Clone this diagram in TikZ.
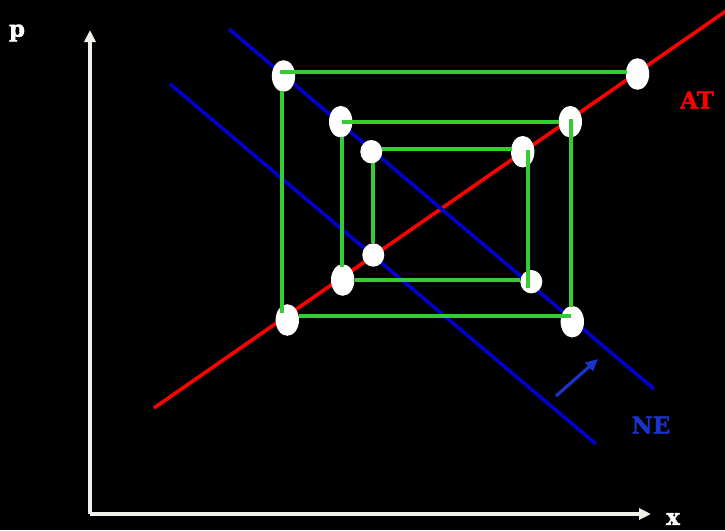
\documentclass[tikz,border=0pt]{standalone}
\usepackage{fontspec}
\newfontfamily\lblfont{DejaVu Serif Bold}[FakeBold=1.5]
\usetikzlibrary{shapes.geometric,arrows.meta}
\definecolor{axiscol}{RGB}{240,240,234}
\definecolor{greencol}{RGB}{51,204,51}
\definecolor{bluecol}{RGB}{0,0,204}
\definecolor{arrowblue}{RGB}{26,51,204}
\definecolor{redcol}{RGB}{255,0,0}
\tikzset{
  big/.style={ellipse,fill=white,inner sep=0pt,minimum width=23.4pt,minimum height=31.6pt},
  small/.style={ellipse,fill=white,inner sep=0pt,minimum width=22pt,minimum height=23.4pt},
  cob/.style={greencol,line width=3.2pt},
  axis/.style={axiscol,line width=3.6pt,-{Triangle[length=12pt,width=11pt]}},
  lbl/.style={font=\lblfont\fontsize{23}{27}\selectfont,inner sep=0pt},
}
\begin{document}
\begin{tikzpicture}[x=1pt,y=-1pt]
\fill[black] (0,0) rectangle (725,530);
\useasboundingbox (0,0) rectangle (725,530);
% axes
\coordinate (o) at (90,514);
\coordinate (ytip) at (90,30);
\coordinate (xtip) at (651,514);
\draw[axis] (o) -- (ytip);
\draw[axis] (o) -- (xtip);
\node[lbl,text=white] (p) at (17,33) {p};
\node[lbl,text=white] (x) at (673,519) {x};
% curves
\coordinate (r1) at (154,408);
\coordinate (r2) at (726,11);
\draw[redcol,line width=3.6pt] (r1) -- (r2);
\coordinate (b1) at (229,29);
\coordinate (b2) at (654,389);
\draw[bluecol,line width=3.6pt] (b1) -- (b2);
\coordinate (c1) at (170,84);
\coordinate (c2) at (596,444);
\draw[bluecol,line width=3.6pt] (c1) -- (c2);
\coordinate (a1) at (556,396);
\coordinate (a2) at (598,359);
\draw[arrowblue,line width=3.2pt,-{Triangle[length=12pt,width=11pt]}] (a1) -- (a2);
\node[lbl,text=arrowblue] (ne) at (651,425) {NE};
\node[lbl,text=redcol] (at) at (697,100) {AT};
% points
\node[big] (e1) at (283.5,76) {};
\node[big] (e2) at (637.5,74) {};
\node[big] (e3) at (340.7,121.7) {};
\node[big] (e4) at (570.3,121.7) {};
\node[small] (e5) at (371.3,151.7) {};
\node[big] (e6) at (522.7,151.7) {};
\node[small] (e7) at (373.3,255) {};
\node[big] (e8) at (342.7,280) {};
\node[small] (e9) at (531.3,281.7) {};
\node[big] (e10) at (287.3,320) {};
\node[big] (e11) at (572.3,321.7) {};
% cobweb
\draw[cob] (280,72) -- (627,72);
\draw[cob] (282,91) -- (282,313);
\draw[cob] (299,316) -- (571,316);
\draw[cob] (571,119) -- (571,307);
\draw[cob] (342,122) -- (559,122);
\draw[cob] (342,137) -- (342,267);
\draw[cob] (355,280) -- (520,280);
\draw[cob] (528,150) -- (528,288);
\draw[cob] (382,149) -- (512,149);
\draw[cob] (373,163) -- (373,243);
\end{tikzpicture}
\end{document}
